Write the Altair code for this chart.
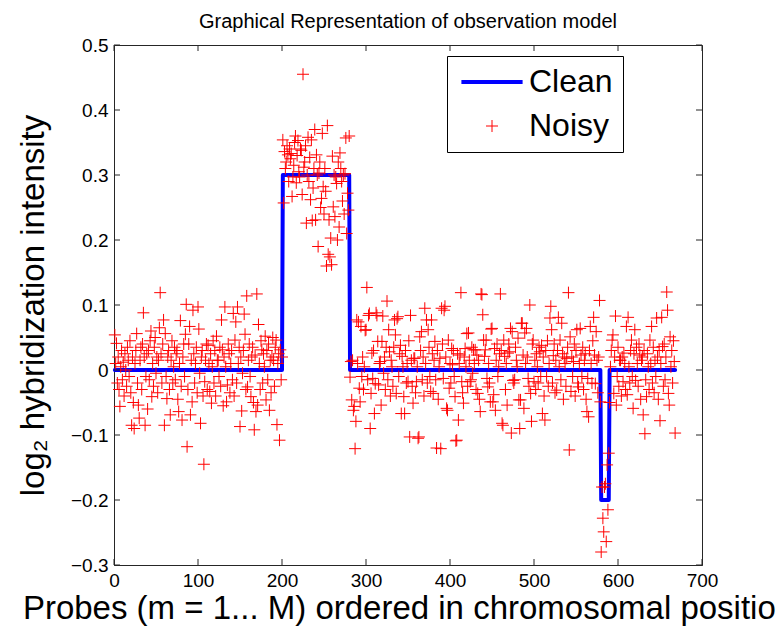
import altair as alt
import pandas as pd

# ---------------- data ----------------
title_text = "Graphical Representation of observation model"
x_title = "Probes (m = 1... M) ordered in chromosomal position"
y_title = "log\u2082 hybridization intensity"

x_ticks = [0, 100, 200, 300, 400, 500, 600, 700]
y_ticks = [-0.3, -0.2, -0.1, 0.0, 0.1, 0.2, 0.3, 0.4, 0.5]

# clean (step) signal breakpoints
clean_x = [1, 200, 201, 280, 281, 579, 580, 589, 590, 668]
clean_y = [0.0, 0.0, 0.3, 0.3, 0.0, 0.0, -0.2, -0.2, 0.0, 0.0]

noisy_a_start = 1
noisy_a = [
    0.054, 0.01, 0.041, -0.02, 0.02, -0.03, -0.056, 0.005, 0.03, -0.015, 0.012, -0.04, 0.025, 0.0, -0.025, 0.035, 0.015, -0.01, 0.045, -0.035,
    -0.085, 0.02, -0.05, -0.09, 0.01, 0.03, 0.056, -0.02, -0.054, -0.074, 0.015, 0.035, -0.03, 0.04, 0.088, 0.02, -0.085, -0.01, 0.025, -0.06,
    0.03, -0.015, 0.045, 0.06, -0.041, 0.01, -0.025, 0.035, 0.05, -0.005, 0.02, -0.035, 0.015, 0.065, 0.119, 0.025, -0.02, 0.04, 0.077, -0.085,
    0.056, -0.01, -0.044, 0.02, 0.03, -0.03, -0.069, 0.015, 0.045, -0.02, 0.005, 0.035, -0.015, 0.025, 0.03, -0.045, -0.064, 0.01, 0.076, -0.025,
    -0.077, 0.02, 0.04, -0.01, 0.055, 0.101, -0.118, -0.03, 0.04, 0.067, -0.069, 0.015, -0.049, 0.092, 0.025, -0.02, 0.01, 0.035, -0.035, 0.097,
    0.063, -0.005, -0.082, 0.02, 0.03, -0.04, -0.145, -0.018, 0.015, 0.04, -0.03, 0.038, 0.01, -0.033, 0.025, -0.051, 0.005, 0.045, -0.02, 0.03,
    -0.04, 0.052, 0.015, 0.015, -0.01, 0.035, -0.025, 0.077, 0.031, -0.055, 0.02, 0.097, 0.005, -0.049, -0.023, 0.04, 0.025, -0.035, 0.01, 0.03,
    -0.015, 0.087, -0.04, 0.046, 0.074, -0.02, 0.097, 0.01, 0.035, -0.087, 0.02, -0.063, -0.005, 0.03, 0.086, 0.055, -0.03, 0.114, -0.026, 0.015,
    0.04, -0.01, -0.041, 0.02, 0.035, -0.05, -0.092, 0.023, -0.064, 0.117, -0.054, 0.07, 0.01, -0.03, 0.045, 0.031, -0.02, 0.025, 0.005, 0.052,
    -0.046, 0.03, -0.015, 0.04, -0.062, 0.015, -0.035, 0.02, 0.05, 0.015, -0.025, 0.035, 0.046, -0.084, 0.01, 0.025, -0.108, 0.031, -0.015, 0.02,
]
noisy_b_start = 201
noisy_b = [
    0.354, 0.257, 0.336, 0.31, 0.32, 0.345, 0.331, 0.29, 0.34, 0.325, 0.333, 0.267, 0.297, 0.315, 0.35, 0.36, 0.288, 0.33, 0.353, 0.305,
    0.297, 0.34, 0.338, 0.27, 0.455, 0.312, 0.32, 0.345, 0.226, 0.3, 0.358, 0.29, 0.327, 0.262, 0.354, 0.23, 0.28, 0.31, 0.37, 0.231,
    0.331, 0.3, 0.19, 0.303, 0.32, 0.25, 0.264, 0.364, 0.282, 0.24, 0.31, 0.275, 0.16, 0.376, 0.178, 0.231, 0.174, 0.203, 0.162, 0.329,
    0.251, 0.3, 0.236, 0.297, 0.287, 0.2, 0.32, 0.22, 0.334, 0.31, 0.29, 0.26, 0.3, 0.24, 0.302, 0.357, 0.21, 0.272, 0.246, 0.36,
]
noisy_c_start = 281
noisy_c = [
    -0.011, 0.013, -0.046, 0.015, -0.062, -0.056, -0.121, -0.079, 0.077, 0.01, 0.074, -0.028, -0.049, 0.067, -0.01, 0.02, -0.03, 0.005, 0.061, 0.062,
    0.127, -0.015, 0.084, 0.087, -0.09, -0.036, 0.026, -0.013, 0.03, -0.067, -0.021, 0.088, 0.084, 0.044, -0.023, 0.01, 0.013, -0.054, 0.044, 0.083,
    -0.005, 0.02, -0.03, 0.035, 0.106, -0.015, 0.062, 0.028, -0.04, 0.015, 0.005, -0.025, 0.035, 0.077, 0.054, -0.036, 0.079, 0.082, -0.01, 0.025,
    0.038, -0.067, 0.021, 0.005, -0.041, -0.067, 0.03, -0.02, 0.01, -0.018, 0.045, -0.103, 0.084, 0.015, -0.025, -0.051, 0.018, 0.018, -0.035, -0.018,
    0.005, -0.105, -0.103, 0.051, 0.03, 0.059, -0.015, 0.02, -0.04, 0.095, 0.01, 0.077, -0.02, 0.062, 0.035, -0.01, -0.033, 0.077, 0.025, -0.036,
    0.015, 0.044, -0.015, -0.12, 0.03, -0.045, 0.005, 0.018, -0.121, 0.095, 0.04, -0.013, 0.092, 0.098, 0.02, -0.059, -0.062, 0.046, -0.028, 0.01,
    -0.02, 0.033, 0.008, 0.03, -0.01, -0.041, -0.109, -0.108, 0.025, -0.077, 0.01, 0.023, 0.119, -0.018, -0.035, -0.051, 0.02, 0.033, 0.005, 0.056,
    -0.025, 0.057, 0.015, -0.018, -0.015, 0.035, -0.005, 0.031, 0.01, 0.031, -0.03, 0.023, -0.036, 0.015, -0.045, -0.064, 0.117, 0.116, 0.085, 0.046,
    0.021, 0.031, 0.046, -0.013, -0.026, 0.01, -0.02, -0.049, 0.063, 0.064, -0.049, -0.038, 0.033, -0.062, 0.015, 0.04, -0.01, 0.005, 0.025, 0.117,
    0.03, -0.082, -0.085, 0.046, 0.021, -0.03, 0.01, -0.054, 0.026, 0.04, 0.028, 0.064, -0.097, 0.059, -0.016, -0.02, -0.015, 0.035, 0.015, 0.005,
    0.049, -0.046, -0.09, -0.046, 0.072, 0.072, 0.023, -0.059, 0.057, 0.01, 0.064, 0.02, -0.013, -0.025, 0.1, -0.036, -0.079, 0.04, 0.046, -0.018,
    0.015, -0.03, 0.025, 0.005, -0.02, 0.035, 0.028, -0.01, 0.038, -0.067, 0.02, -0.04, -0.077, 0.03, -0.01, 0.045, -0.025, 0.01, 0.08, 0.098,
    0.062, -0.02, 0.022, 0.04, -0.035, 0.015, -0.031, 0.03, 0.081, 0.005, 0.046, -0.015, 0.072, 0.025, -0.045, 0.02, 0.01, -0.025, 0.018, 0.035,
    0.119, -0.123, 0.051, -0.033, 0.02, -0.01, 0.013, 0.04, -0.04, 0.03, 0.062, -0.02, -0.026, 0.01, 0.064, 0.023, -0.01, 0.035, -0.03, 0.015,
    0.025, -0.045, -0.064, -0.013, -0.072, 0.03, 0.067, 0.01, -0.02, 0.045, 0.081, 0.023, -0.021, 0.059, 0.015, -0.035, 0.02, 0.107, -0.049,
]
noisy_d_start = 580
noisy_d = [-0.28, -0.18, -0.228, -0.249, -0.18, -0.175, -0.264, -0.146, -0.215, -0.128]
noisy_e_start = 590
noisy_e = [
    -0.05, 0.005, 0.03, 0.046, 0.054, -0.036, 0.02, 0.083, -0.054, -0.01, 0.035, -0.025, 0.015, 0.015, -0.04, 0.02, -0.018, 0.026, 0.01, -0.03,
    0.067, -0.038, 0.081, 0.005, -0.02, 0.03, 0.046, -0.01, -0.059, 0.025, 0.062, -0.016, 0.035, 0.01, -0.025, 0.04, 0.023, -0.045, 0.015, 0.02,
    -0.069, 0.03, -0.098, -0.015, -0.041, 0.025, 0.005, -0.03, 0.046, 0.01, 0.067, -0.02, 0.035, -0.035, 0.015, -0.01, 0.08, 0.02, -0.045, 0.03,
    -0.078, 0.01, 0.081, 0.036, -0.025, 0.04, -0.015, 0.02, 0.12, 0.092, -0.036, -0.054, 0.051, 0.005, 0.03, -0.02, 0.045, 0.013, -0.097,
]

series_names = ["Clean", "Noisy"]
series_colors = ["#0000ff", "#ff0000"]
# legend glyphs: a long line for the clean signal, a "+" for the noisy probes
series_shapes = ["M-5.1,0L5.1,0", "M-1,0L1,0M0,-1L0,1"]
series_widths = [4, 1]

# ---------------- tables ----------------
nx, ny = [], []
for start, vals in [(noisy_a_start, noisy_a), (noisy_b_start, noisy_b), (noisy_c_start, noisy_c),
                    (noisy_d_start, noisy_d), (noisy_e_start, noisy_e)]:
    for i, v in enumerate(vals):
        nx.append(start + i)
        ny.append(v)
noisy_df = pd.DataFrame({"m": nx, "v": ny, "series": "Noisy"})
clean_df = pd.DataFrame({"m": clean_x, "v": clean_y, "order": list(range(len(clean_x)))})
xt_df = pd.DataFrame({"t": x_ticks})
yt_df = pd.DataFrame({"t": y_ticks})

FONT = "Liberation Sans"
W, H = 588, 520
TICK = 6

xscale = alt.Scale(domain=[0, 700], nice=False, zero=False)
yscale = alt.Scale(domain=[-0.3, 0.5], nice=False, zero=False)
xaxis = alt.Axis(values=x_ticks, format="d", title=x_title)
yaxis = alt.Axis(values=y_ticks, title=y_title,
                 labelExpr="datum.value == 0 ? '0' : format(datum.value, '.1f')")


def X(field):
    return alt.X(field, type="quantitative", scale=xscale, axis=xaxis)


def Y(field):
    return alt.Y(field, type="quantitative", scale=yscale, axis=yaxis)


line = alt.Chart(clean_df).mark_line(
    color=series_colors[0], strokeWidth=4, strokeJoin="round", strokeCap="round"
).encode(x=X("m"), y=Y("v"), order="order:Q")

legend = alt.Legend(
    orient="none", legendX=333, legendY=11, title=None,
    labelFont=FONT, labelFontSize=32, labelColor="black", labelOffset=21,
    symbolSize=144, symbolOffset=19,
    strokeColor="black", fillColor="white", padding=10, rowPadding=12,
)

points = alt.Chart(noisy_df).mark_point(filled=False, opacity=1, size=144).encode(
    x=X("m"), y=Y("v"),
    color=alt.Color("series:N", scale=alt.Scale(domain=series_names, range=series_colors), legend=legend),
    shape=alt.Shape("series:N", scale=alt.Scale(domain=series_names, range=series_shapes), legend=legend),
    strokeWidth=alt.StrokeWidth("series:N", scale=alt.Scale(type="point", domain=series_names, range=series_widths, padding=0), legend=legend),
)

tick_color = "#262626"
xt_bottom = alt.Chart(xt_df).mark_rule(color=tick_color, strokeWidth=1).encode(
    x=X("t"), y=alt.value(H), y2=alt.value(H - TICK))
xt_top = alt.Chart(xt_df).mark_rule(color=tick_color, strokeWidth=1).encode(
    x=X("t"), y=alt.value(0), y2=alt.value(TICK))
yt_left = alt.Chart(yt_df).mark_rule(color=tick_color, strokeWidth=1).encode(
    y=Y("t"), x=alt.value(0), x2=alt.value(TICK))
yt_right = alt.Chart(yt_df).mark_rule(color=tick_color, strokeWidth=1).encode(
    y=Y("t"), x=alt.value(W), x2=alt.value(W - TICK))

chart = alt.layer(line, points, xt_bottom, xt_top, yt_left, yt_right).properties(
    width=W, height=H,
    title=alt.TitleParams(title_text, font=FONT, fontSize=20, fontWeight="normal", color="black",
                          anchor="middle", offset=4),
    padding={"left": 114, "top": 45, "right": 75, "bottom": 63},
    autosize=alt.AutoSizeParams(type="none"),
    background="white",
).configure_view(
    stroke=tick_color, strokeWidth=1
).configure_axis(
    grid=False, ticks=False, domain=True, domainColor=tick_color, domainWidth=1,
    labelFont=FONT, labelFontSize=19, labelColor="black", labelPadding=6, labelFlush=False,
    titleFont=FONT, titleFontSize=33, titleFontWeight="normal", titleColor="black",
).configure_axisX(titlePadding=2).configure_axisY(titlePadding=20)

chart.save("out.html", embed_options={"renderer": "svg", "actions": False})
